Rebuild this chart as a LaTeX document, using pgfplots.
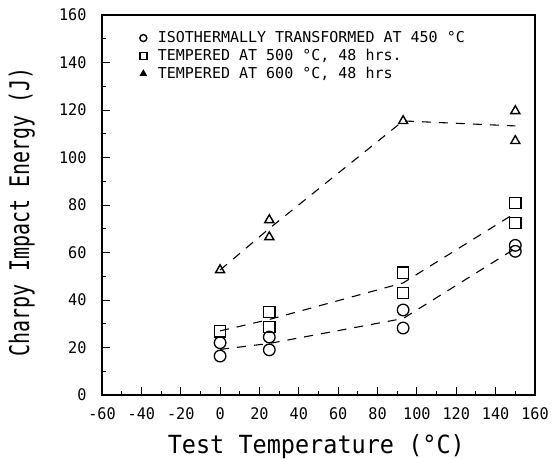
\documentclass[border=0pt]{standalone}
\usepackage{pgfplots}
\pgfplotsset{compat=1.18}
\usepackage{fontspec}
\setmainfont{DejaVu Sans Mono}
\newfontfamily\xlabfont{DejaVu Sans Mono}[FakeStretch=0.94]
\newfontfamily\ylabfont{DejaVu Sans Mono}[FakeStretch=0.74]
\newfontfamily\tickfont{DejaVu Sans Mono}[FakeStretch=0.95]
\newfontfamily\legfont{DejaVu Sans Mono}

\begin{document}
\begin{tikzpicture}
\begin{axis}[
  scale only axis,
  width=433pt, height=380pt,
  xmin=-60, xmax=160, ymin=0, ymax=160,
  xtick={-60,-40,...,160}, ytick={0,20,...,160},
  minor x tick num=1, minor y tick num=1,
  tick align=inside,
  xtick pos=bottom, ytick pos=left,
  major tick length=8pt, minor tick length=4pt,
  tick style={line width=0.9pt, black},
  axis line style={line width=1.2pt},
  /pgf/number format/assume math mode=true,
  ticklabel style={font=\tickfont\fontsize{16}{16}\selectfont},
  yticklabel style={xshift=-12pt},
  xticklabel style={yshift=-9pt},
  xlabel={Test Temperature (°C)},
  ylabel={Charpy Impact Energy (J)},
  label style={inner sep=0pt},
  xlabel style={font=\xlabfont\fontsize{25}{25}\selectfont, at={(axis description cs:0.495,-0.153)}, anchor=base},
  ylabel style={font=\ylabfont\fontsize{27}{27}\selectfont, at={(axis description cs:-0.1686,0.482)}, anchor=base},
  legend style={draw=none, fill=none, font=\legfont\fontsize{15}{15}\selectfont,
    at={(axis description cs:0.08,0.967)}, anchor=north west,
    row sep=1pt, cells={anchor=west}},
  legend cell align=left,
]
\addlegendimage{only marks, mark=o, mark size=3.5pt, line width=1.4pt}
\addlegendentry{\hspace{9pt}ISOTHERMALLY TRANSFORMED AT 450 °C}
\addlegendimage{only marks, mark=square, mark size=3.5pt, line width=1.6pt}
\addlegendentry{\hspace{9pt}TEMPERED AT 500 °C, 48 hrs.}
\addlegendimage{only marks, mark=triangle*, mark size=3.5pt, line width=1pt}
\addlegendentry{\hspace{9pt}TEMPERED AT 600 °C, 48 hrs}

% dashed mean lines
\addplot[forget plot, black, line width=1.1pt, dash pattern=on 9pt off 8pt] coordinates {
 (0,19.2) (25,21.7) (93,32.2) (150,61.7)};
\addplot[forget plot, black, line width=1.1pt, dash pattern=on 9pt off 8pt] coordinates {
 (0,27) (25,31.8) (93,47.2) (150,76.6)};
\addplot[forget plot, black, line width=1.1pt, dash pattern=on 9pt off 8pt] coordinates {
 (0,52.6) (25,70.1) (93,115.4) (150,113.3)};

% data points
\addplot[forget plot, only marks, mark=o, mark size=5.8pt, line width=1.3pt, black] coordinates {
 (0,22) (0,16.4) (25,24.4) (25,19) (93,35.8) (93,28.2) (150,63) (150,60.5)};
\addplot[forget plot, only marks, mark=square, mark size=5.6pt, line width=1.5pt, black] coordinates {
 (0,26.8) (25,35) (25,28.6) (93,51.5) (93,43) (150,80.8) (150,72.4)};
\addplot[forget plot, only marks, mark=triangle, mark size=5.2pt, line width=1.4pt, black] coordinates {
 (0,52.6) (25,73.7) (25,66.5) (93,115.4) (150,119.6) (150,107)};

\coordinate (bbsw) at (axis description cs:-0.2356,-0.1684);
\coordinate (bbne) at (axis description cs:1.0393,1.0395);
\end{axis}
\pgfresetboundingbox
\path (bbsw) rectangle (bbne);
\end{tikzpicture}
\end{document}
